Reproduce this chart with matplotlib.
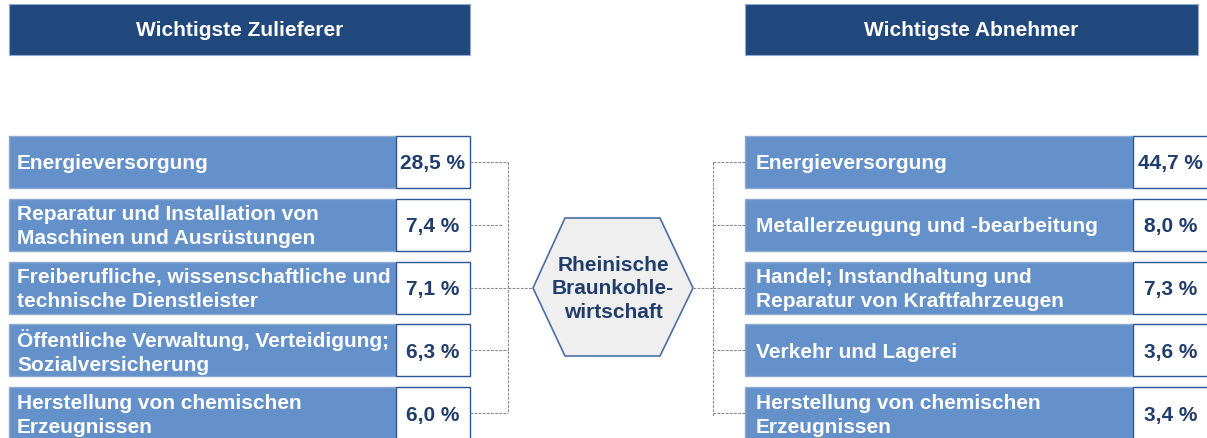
import matplotlib
matplotlib.use("Agg")
import matplotlib.pyplot as plt
from matplotlib.patches import Rectangle, Polygon

# ---- data ----
header_left = "Wichtigste Zulieferer"
header_right = "Wichtigste Abnehmer"
center_text = "Rheinische\nBraunkohle-\nwirtschaft"
left_labels = [
    "Energieversorgung",
    "Reparatur und Installation von\nMaschinen und Ausrüstungen",
    "Freiberufliche, wissenschaftliche und\ntechnische Dienstleister",
    "Öffentliche Verwaltung, Verteidigung;\nSozialversicherung",
    "Herstellung von chemischen\nErzeugnissen",
]
left_values = [28.5, 7.4, 7.1, 6.3, 6.0]
right_labels = [
    "Energieversorgung",
    "Metallerzeugung und -bearbeitung",
    "Handel; Instandhaltung und\nReparatur von Kraftfahrzeugen",
    "Verkehr und Lagerei",
    "Herstellung von chemischen\nErzeugnissen",
]
right_values = [44.7, 8.0, 7.3, 3.6, 3.4]

# ---- style ----
HEAD = "#21487D"
FILL = "#6591CB"
FILL_EDGE = "#8FA9D2"
VAL_EDGE = "#2F5597"
VAL_TXT = "#203D6B"
LINE = "#8C8C8C"
FONT = "Liberation Sans"
FS = 15.0

W, H = 1207, 439
fig = plt.figure(figsize=(W / 100, H / 100), dpi=100)
ax = fig.add_axes([0, 0, 1, 1])
ax.set_xlim(0, W)
ax.set_ylim(H, 0)
ax.axis("off")

def fmt(v):
    return f"{v:.1f}".replace(".", ",") + " %"

# headers
for x0, x1, t in [(9, 470, header_left), (745, 1198, header_right)]:
    ax.add_patch(Rectangle((x0, 5), x1 - x0, 51, facecolor=HEAD, edgecolor="#8FA9D2", lw=0.8))
    ax.text((x0 + x1) / 2, 31, t, color="white", fontsize=FS, fontweight="bold",
            family=FONT, ha="center", va="center")

row_top0, pitch, row_h = 137, 62.8, 52
dash = (0, (2.5, 1.2))

def draw_side(labels, values, x0, xsplit, x1, text_x):
    centers = []
    for i, (lab, v) in enumerate(zip(labels, values)):
        top = row_top0 + i * pitch
        ax.add_patch(Rectangle((x0, top), xsplit - x0, row_h, facecolor=FILL,
                               edgecolor=FILL_EDGE, lw=1.0))
        ax.add_patch(Rectangle((xsplit, top), x1 - xsplit, row_h, facecolor="white",
                               edgecolor=VAL_EDGE, lw=1.0))
        cy = top + row_h / 2
        centers.append(cy)
        ax.text(text_x, cy + 1, lab, color="white", fontsize=FS, fontweight="bold",
                family=FONT, ha="left", va="center", linespacing=1.32)
        ax.text((xsplit + x1) / 2, cy + 1, fmt(v), color=VAL_TXT, fontsize=FS,
                fontweight="bold", family=FONT, ha="center", va="center")
    return centers

lc = draw_side(left_labels, left_values, 9, 396, 470, 17)
rc = draw_side(right_labels, right_values, 745, 1133, 1208, 756)

# hexagon
hex_pts = [(533, 289), (565, 219), (660, 219), (693, 289), (660, 357), (565, 357)]
ax.add_patch(Polygon(hex_pts, closed=True, facecolor="#EFEFEF", edgecolor="#4A6FA5", lw=1.2))
ax.text(613, 289, center_text, color=VAL_TXT, fontsize=FS, fontweight="bold",
        family=FONT, ha="center", va="center", linespacing=1.32)

# connectors left
for i, cy in enumerate(lc):
    xe = 502 if i == 1 else 508
    ax.plot([470, xe], [cy, cy], color=LINE, lw=0.8, ls=dash)
ax.plot([508, 508], [lc[0], lc[-1]], color=LINE, lw=0.8, ls=dash)
ax.plot([508, 533], [289, 289], color=LINE, lw=0.8, ls=dash)

# connectors right
for cy in rc:
    ax.plot([713, 745], [cy, cy], color=LINE, lw=0.8, ls=dash)
ax.plot([713, 713], [rc[0], rc[-1] + 3], color=LINE, lw=0.8, ls=dash)
ax.plot([693, 713], [289, 289], color=LINE, lw=0.8, ls=dash)

fig.savefig("out.png", dpi=100)
